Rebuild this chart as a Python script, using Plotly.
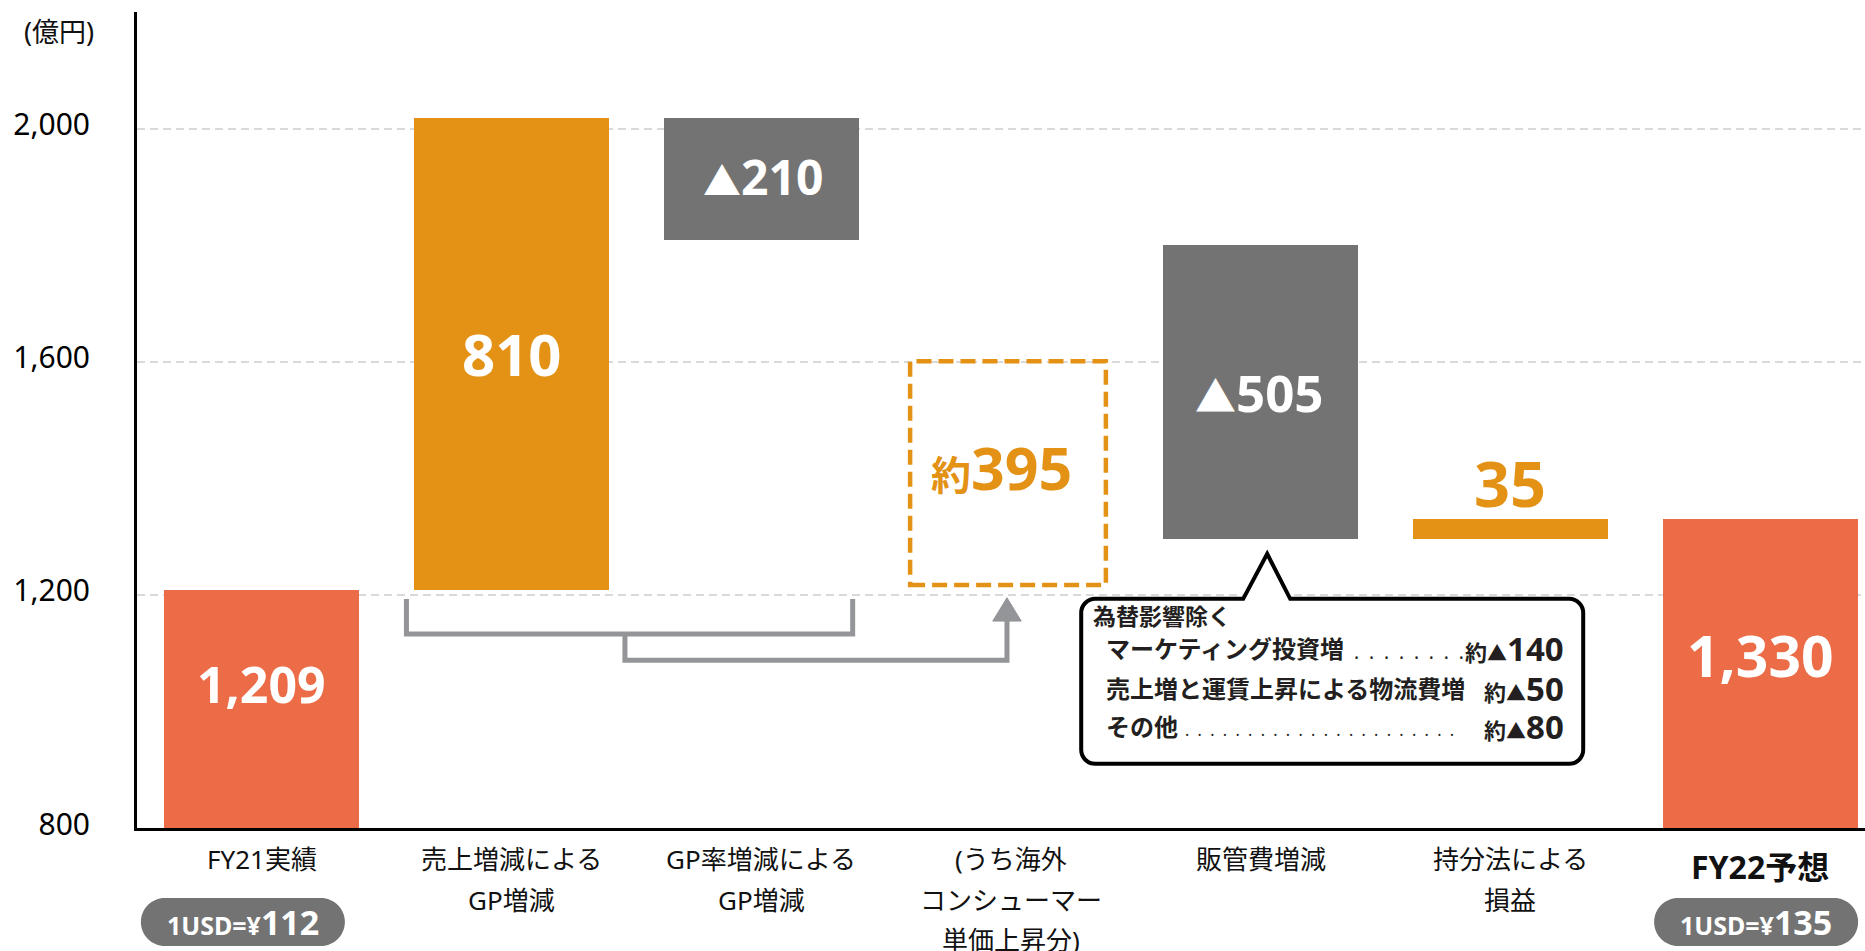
import plotly.graph_objects as go

# ---------------- data ----------------
category_lines = [
    ["FY21実績"],
    ["売上増減による", "GP増減"],
    ["GP率増減による", "GP増減"],
    ["(うち海外", "コンシューマー", "単価上昇分)"],
    ["販管費増減"],
    ["持分法による", "損益"],
    ["FY22予想"],
]
fy21_actual = 1209
gp_change_sales = 810
gp_change_margin = -210
overseas_price_part = 395
sga_change = -505
equity_income = 35
fy22_forecast = 1330
value_labels = ["1,209", "810", "▲210", "約395", "▲505", "35", "1,330"]
fx_rate_labels = ["112", "135"]
breakdown_note = "為替影響除く"
breakdown_items = ["マーケティング投資増", "売上増と運賃上昇による物流費増", "その他"]
breakdown_values = ["140", "50", "80"]
y_tick_values = [800, 1200, 1600, 2000]
unit_label = "(億円)"

# ---------------- style ----------------
RED = "#EC6C48"
ORANGE = "#E39215"
GRAY = "#737373"
BRACKET = "#949598"
TXT = "#111111"
FONT = "Noto Sans, Noto Sans CJK JP, sans-serif"

W, H = 1865, 951
ML, MR, MT, MB = 137, 0, 12, 123
X_RANGE = [-0.5, 6.42]
Y_RANGE = [800, 2200]
BAR_W = 0.78

# ---------------- derived waterfall geometry ----------------
sales_top = fy21_actual + gp_change_sales
margin_base = sales_top + gp_change_margin
equity_base = fy22_forecast - equity_income

bar_x = [0, 1, 2, 4, 5, 6]
bar_base = [0, fy21_actual, margin_base, equity_base, equity_base, 0]
bar_len = [fy21_actual, gp_change_sales, -gp_change_margin, -sga_change, equity_income, fy22_forecast]
bar_color = [RED, ORANGE, GRAY, GRAY, ORANGE, RED]

fig = go.Figure()
fig.add_trace(go.Bar(
    x=bar_x, y=bar_len, base=bar_base, width=BAR_W,
    marker=dict(color=bar_color, line=dict(width=0)),
    hoverinfo="skip", showlegend=False,
))

shapes = []
annotations = []

# dashed box for overseas consumer price part (breakdown, not a step)
shapes.append(dict(
    type="rect", xref="x", yref="y",
    x0=3 - 0.012 - 0.392, x1=3 - 0.012 + 0.392,
    y0=fy21_actual + 8, y1=fy21_actual + overseas_price_part - 3,
    line=dict(color=ORANGE, width=4.5, dash="15px,7px"),
    fillcolor="rgba(0,0,0,0)", layer="above",
))

# brackets + arrow (data coordinates)
b_top, b_h1, b_h2 = 1193, 1133, 1088
bx_l, bx_r, bx_m, bx_a = 1 - 0.421, 2 + 0.366, 1.454, 3 - 0.016
arrow_base, arrow_tip, arrow_hw = 1155, 1195, 0.057
shapes.append(dict(
    type="path", xref="x", yref="y",
    path=f"M{bx_l},{b_top} L{bx_l},{b_h1} L{bx_r},{b_h1} L{bx_r},{b_top}",
    line=dict(color=BRACKET, width=5),
))
shapes.append(dict(
    type="path", xref="x", yref="y",
    path=f"M{bx_m},{b_h1} L{bx_m},{b_h2} L{bx_a},{b_h2} L{bx_a},{arrow_base}",
    line=dict(color=BRACKET, width=5),
))
shapes.append(dict(
    type="path", xref="x", yref="y",
    path=f"M{bx_a - arrow_hw},{arrow_base} L{bx_a},{arrow_tip} L{bx_a + arrow_hw},{arrow_base} Z",
    fillcolor=BRACKET, line=dict(color=BRACKET, width=1),
))


def rounded_path(x0, x1, y0, y1, r, notch=None):
    """x0<x1, y0 bottom < y1 top (pixel units, y up). notch=(left, apex_x, apex_y, right)"""
    k = 0.5523 * r
    p = [f"M{x0 + r:.2f},{y1:.2f}"]
    if notch:
        nl, ax, ay, nr = notch
        p += [f"L{nl:.2f},{y1:.2f}", f"L{ax:.2f},{ay:.2f}", f"L{nr:.2f},{y1:.2f}"]
    p += [
        f"L{x1 - r:.2f},{y1:.2f}",
        f"C{x1 - r + k:.2f},{y1:.2f} {x1:.2f},{y1 - r + k:.2f} {x1:.2f},{y1 - r:.2f}",
        f"L{x1:.2f},{y0 + r:.2f}",
        f"C{x1:.2f},{y0 + r - k:.2f} {x1 - r + k:.2f},{y0:.2f} {x1 - r:.2f},{y0:.2f}",
        f"L{x0 + r:.2f},{y0:.2f}",
        f"C{x0 + r - k:.2f},{y0:.2f} {x0:.2f},{y0 + r - k:.2f} {x0:.2f},{y0 + r:.2f}",
        f"L{x0:.2f},{y1 - r:.2f}",
        f"C{x0:.2f},{y1 - r + k:.2f} {x0 + r - k:.2f},{y1:.2f} {x0 + r:.2f},{y1:.2f}",
        "Z",
    ]
    return " ".join(p)


# callout (pixel offsets relative to x=4, y=1200)
CA_X, CA_Y = 4, 1200
shapes.append(dict(
    type="path", xref="x", yref="y",
    xsizemode="pixel", ysizemode="pixel", xanchor=CA_X, yanchor=CA_Y,
    path=rounded_path(-179.5, 322.5, -169, -4, 14, notch=(-17.5, 6.5, 41, 29.5)),
    fillcolor="white", line=dict(color="black", width=4), layer="above",
))

# pills with FX rates
pill_cat = [0, 6]
pill_dx = [-19, -4]
for cat, dx, rate in zip(pill_cat, pill_dx, fx_rate_labels):
    shapes.append(dict(
        type="path", xref="x", yref="paper",
        xsizemode="pixel", ysizemode="pixel", xanchor=cat, yanchor=0,
        path=rounded_path(dx - 102, dx + 102, -118, -70, 24),
        fillcolor=GRAY, line=dict(width=0),
    ))
    annotations.append(dict(
        xref="x", yref="paper", x=cat, y=0, xshift=dx, yshift=-94,
        xanchor="center", yanchor="middle", showarrow=False,
        text=f'<span style="font-size:25px">1USD=¥</span>{rate}',
        font=dict(family=FONT, size=34, color="white", weight="bold"),
    ))

# value labels on bars
label_y = [1047, 1614, 1917, 1420, 1548, 1392, 1097]
label_dx = [0, 0, 2, -9, -1, 0, 0]
label_size = [50, 58, 48, 59, 51, 63, 57]
label_color = ["white", "white", "white", ORANGE, "white", ORANGE, "white"]
for i, txt in enumerate(value_labels):
    t = txt
    sz = label_size[i]
    if t.startswith("約"):
        t = f'<span style="font-size:{round(sz * 0.68)}px">約</span>' + t[1:]
    elif t.startswith("▲"):
        t = f'<span style="font-size:{round(sz * 0.8)}px">▲</span>' + t[1:]
    annotations.append(dict(
        xref="x", yref="y", x=i, y=label_y[i], xshift=label_dx[i],
        xanchor="center", yanchor="middle", showarrow=False, text=t,
        font=dict(family=FONT, size=sz, color=label_color[i], weight="bold"),
    ))

# category labels below axis
LINE_GAP = 40.5
for i, lines in enumerate(category_lines):
    is_last = i == len(category_lines) - 1
    for j, line in enumerate(lines):
        annotations.append(dict(
            xref="x", yref="paper", x=i, y=0,
            yshift=-(38 if is_last else 31) - j * LINE_GAP,
            xanchor="center", yanchor="middle", showarrow=False, text=line,
            font=dict(family=FONT, size=32 if is_last else 26, color=TXT,
                      weight="bold" if is_last else "normal"),
        ))

# unit label
annotations.append(dict(
    xref="paper", yref="paper", x=0, y=1, xshift=-78, yshift=-19,
    xanchor="center", yanchor="middle", showarrow=False, text=unit_label,
    font=dict(family=FONT, size=27, color=TXT),
))

# callout text
CT = "#231F20"
annotations.append(dict(
    xref="x", yref="y", x=CA_X, y=CA_Y, xshift=-170, yshift=-21,
    xanchor="left", yanchor="middle", showarrow=False, text=breakdown_note,
    font=dict(family=FONT, size=23, color=CT, weight="bold"),
))
row_dy = [-54, -94, -132]
# (x offset, number of dots, dot font size)
dots = [(91.5, 8, 19), None, (-77.5, 22, 16)]
NB = "\u00a0"
for item, val, dy, dd in zip(breakdown_items, breakdown_values, row_dy, dots):
    annotations.append(dict(
        xref="x", yref="y", x=CA_X, y=CA_Y, xshift=-157, yshift=dy,
        xanchor="left", yanchor="middle", showarrow=False, text=item,
        font=dict(family=FONT, size=24, color=CT, weight="bold"),
    ))
    annotations.append(dict(
        xref="x", yref="y", x=CA_X, y=CA_Y, xshift=305, yshift=dy,
        xanchor="right", yanchor="middle", showarrow=False,
        text=f'<span style="font-size:22px">約</span><span style="font-size:20px">▲</span>{val}',
        font=dict(family=FONT, size=33, color=CT, weight="bold"),
    ))
    if dd:
        annotations.append(dict(
            xref="x", yref="y", x=CA_X, y=CA_Y, xshift=dd[0], yshift=dy - 3,
            xanchor="left", yanchor="middle", showarrow=False,
            text=(NB + NB).join(["."] * dd[1]),
            font=dict(family=FONT, size=dd[2], color=CT),
        ))

fig.update_layout(
    width=W, height=H, autosize=False,
    margin=dict(l=ML, r=MR, t=MT, b=MB),
    paper_bgcolor="white", plot_bgcolor="white",
    shapes=shapes, annotations=annotations,
    bargap=0, showlegend=False,
    font=dict(family=FONT, color=TXT),
)
fig.update_xaxes(
    range=X_RANGE, showticklabels=False, showgrid=False, zeroline=False,
    showline=True, linecolor="black", linewidth=3, ticks="", fixedrange=True,
)
fig.update_yaxes(
    range=Y_RANGE, tickvals=y_tick_values, tickformat=",",
    showgrid=True, gridcolor="#D9D9D9", gridwidth=2, griddash="8px,5px",
    zeroline=False, showline=True, linecolor="black", linewidth=3, ticks="",
    ticklabelstandoff=38, ticklabelshift=-4,
    tickfont=dict(family=FONT, size=30, color="black"), fixedrange=True,
)

fig.write_html("out.html")
